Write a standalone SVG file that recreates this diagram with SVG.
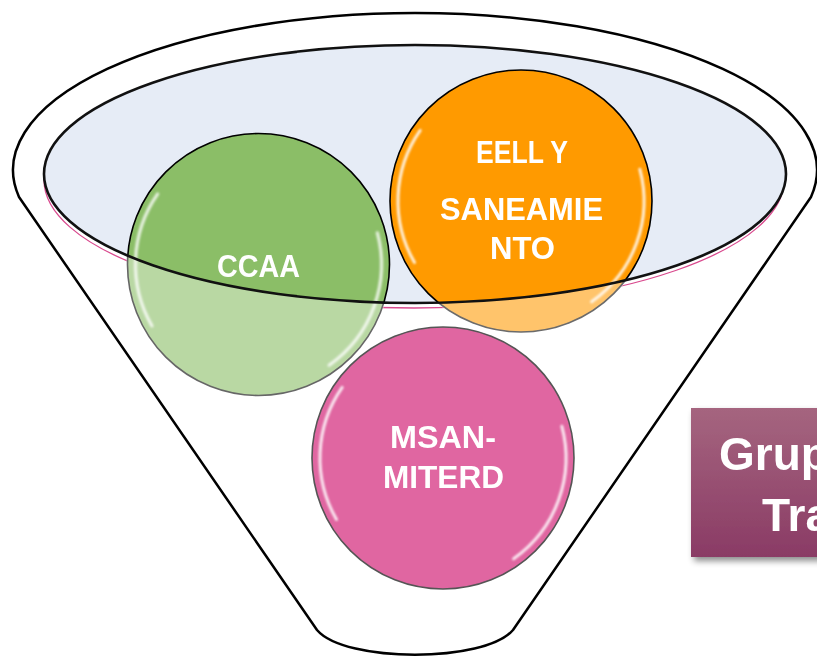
<svg xmlns="http://www.w3.org/2000/svg" width="817" height="657" viewBox="0 0 817 657">
  <style>
    .lbl { font-family: "Liberation Sans", Arial, sans-serif; font-weight: bold; fill: #ffffff; text-anchor: middle; font-size: 32px; }
    .box { font-family: "Liberation Sans", Arial, sans-serif; font-weight: bold; fill: #ffffff; font-size: 46px; }
    .hl { fill: none; stroke: #ffffff; stroke-width: 3; stroke-linecap: round; opacity: 0.85; }
    .ring { stroke-width: 1.6; }
  </style>
  <defs>
    <filter id="soft" x="-20%" y="-20%" width="140%" height="140%">
      <feGaussianBlur stdDeviation="0.9"/>
    </filter>
    <filter id="shadow" x="-10%" y="-10%" width="130%" height="130%">
      <feDropShadow dx="3" dy="4" stdDeviation="3" flood-color="#000000" flood-opacity="0.45"/>
    </filter>
    <linearGradient id="boxGrad" x1="0" y1="0" x2="0" y2="1">
      <stop offset="0" stop-color="#A5657F"/>
      <stop offset="1" stop-color="#8A3B65"/>
    </linearGradient>
    <clipPath id="outsideMouth">
      <path clip-rule="evenodd" d="M0,0 H817 V657 H0 Z M44,174 A371 129 0 1 0 786,174 A371 129 0 1 0 44,174 Z"/>
    </clipPath>
    <g id="gloss" filter="url(#soft)">
      <path class="hl" d="M-106.5,61.5 A123 123 0 0 1 -100.8,-70.6"/>
      <path class="hl" d="M118.8,-31.8 A123 123 0 0 1 70.6,100.8"/>
    </g>
  </defs>

  <!-- funnel body -->
  <g id="funnel">
    <path id="funnel-body" d="M317,630 L19,197 A402 157 0 1 1 811,197 L513,630 C485,663 345,663 317,630 Z" fill="#ffffff" stroke="#000000" stroke-width="2.5" stroke-linejoin="round"/>
    <ellipse cx="414" cy="180" rx="370" ry="128" fill="none" stroke="#D94A8E" stroke-width="1.3"/>
    <ellipse cx="415" cy="174" rx="371" ry="129" fill="#E6ECF6"/>
  </g>

  <!-- CCAA -->
  <g id="node-ccaa">
    <circle cx="258.5" cy="264.5" r="131" fill="#8BBE67" stroke="#000000" class="ring"/>
    <use href="#gloss" transform="translate(258.5,264.5)"/>
    <circle cx="258.5" cy="264.5" r="132.5" fill="#ffffff" fill-opacity="0.4" clip-path="url(#outsideMouth)"/>
    <text class="lbl" x="258.5" y="277" textLength="83" lengthAdjust="spacingAndGlyphs">CCAA</text>
  </g>

  <!-- EELL Y SANEAMIENTO -->
  <g id="node-eell">
    <circle cx="521" cy="201" r="131" fill="#FF9A00" stroke="#000000" class="ring"/>
    <use href="#gloss" transform="translate(521,201)"/>
    <circle cx="521" cy="201" r="132.5" fill="#ffffff" fill-opacity="0.42" clip-path="url(#outsideMouth)"/>
    <text class="lbl" x="522" y="163" textLength="92" lengthAdjust="spacingAndGlyphs">EELL Y</text>
    <text class="lbl" x="521.5" y="220" textLength="163" lengthAdjust="spacingAndGlyphs">SANEAMIE</text>
    <text class="lbl" x="522.5" y="259" textLength="65" lengthAdjust="spacingAndGlyphs">NTO</text>
  </g>

  <!-- mouth rim on top -->
  <g id="funnel-rim">
    <ellipse cx="415" cy="174" rx="371" ry="129" fill="none" stroke="#111111" stroke-width="2.6"/>
  </g>

  <!-- MSAN-MITERD -->
  <g id="node-msan">
    <circle cx="443" cy="458" r="131" fill="#E066A1" stroke="#555555" class="ring"/>
    <use href="#gloss" transform="translate(443,458)"/>
    <text class="lbl" x="443" y="448" textLength="106" lengthAdjust="spacingAndGlyphs">MSAN-</text>
    <text class="lbl" x="443.5" y="488" textLength="121" lengthAdjust="spacingAndGlyphs">MITERD</text>
  </g>

  <!-- Grupo box -->
  <g id="node-grupo">
    <rect x="691" y="408" width="140" height="149" fill="url(#boxGrad)" filter="url(#shadow)"/>
    <text class="box" x="719" y="470">Grup</text>
    <text class="box" x="762" y="531">Tra</text>
  </g>
</svg>
